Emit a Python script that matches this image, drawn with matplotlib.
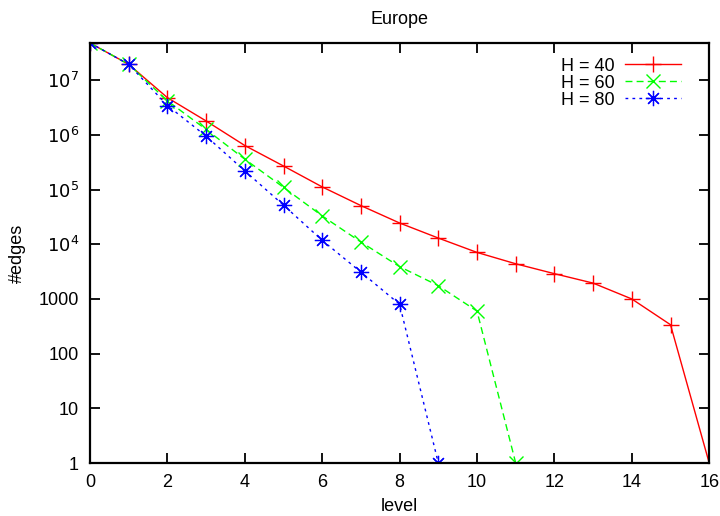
import numpy as np
import matplotlib
matplotlib.use("Agg")
import matplotlib.pyplot as plt
from matplotlib.ticker import FixedLocator, FixedFormatter

plt.rcParams['font.family'] = ['Liberation Sans', 'DejaVu Sans']

# data
levels_40 = list(range(0, 17))
edges_40 = [4.8e7, 1.95e7, 4.8e6, 1.8e6, 6.4e5, 2.7e5, 1.12e5, 5.1e4, 2.45e4,
            1.3e4, 7.1e3, 4.4e3, 2.9e3, 1.95e3, 1.0e3, 338, 1]
levels_60 = list(range(0, 12))
edges_60 = [4.8e7, 1.95e7, 4.2e6, 1.26e6, 3.6e5, 1.1e5, 3.3e4, 1.1e4, 3.9e3,
            1.75e3, 600, 1]
levels_80 = list(range(0, 10))
edges_80 = [4.8e7, 1.95e7, 3.45e6, 9.5e5, 2.2e5, 5.2e4, 1.18e4, 3.1e3, 800, 1]

ytick_vals = [1, 10, 100, 1000, 1e4, 1e5, 1e6, 1e7]
ytick_labels = ['1', '10', '100', '1000', r'$10^4$', r'$10^5$', r'$10^6$', r'$10^7$']

fig = plt.figure(figsize=(7.2, 5.16), dpi=100)
ax = fig.add_axes([0.125, 0.1027, 0.86, 0.814])

ax.plot(levels_40, edges_40, color='#ff0000', lw=1, ls='-', marker='+',
        ms=12, mew=1, label='H = 40')
ax.plot(levels_60, edges_60, color='#00ff00', lw=1, ls=(0, (5, 3)), marker='x',
        ms=10, mew=1, label='H = 60')
ax.plot(levels_80, edges_80, color='#0000ff', lw=1, ls=(0, (2, 3)),
        marker=(8, 2, 0), ms=11, mew=0.9, label='H = 80')

ax.set_yscale('log')
ax.set_xlim(0, 16)
ax.set_ylim(1, 4.8e7)
ax.yaxis.set_major_locator(FixedLocator(ytick_vals))
ax.yaxis.set_major_formatter(FixedFormatter(ytick_labels))
ax.yaxis.set_minor_locator(FixedLocator([]))
ax.set_xticks(range(0, 17, 2))

ax.tick_params(direction='in', length=7, width=1.3, top=True, right=True,
               labelsize=13, pad=8)
for s in ax.spines.values():
    s.set_linewidth(1.6)

ax.set_title('Europe', fontsize=13, pad=14)
ax.set_xlabel('level', fontsize=13, labelpad=5)
ax.set_ylabel('#edges', fontsize=13, labelpad=9)

ax.legend(loc='upper right', frameon=False, markerfirst=False, fontsize=13,
          handlelength=3.1, borderaxespad=0.8, labelspacing=0.0, handletextpad=0.6,
          bbox_to_anchor=(0.99, 1.017))

fig.savefig('out.png', dpi=100)
